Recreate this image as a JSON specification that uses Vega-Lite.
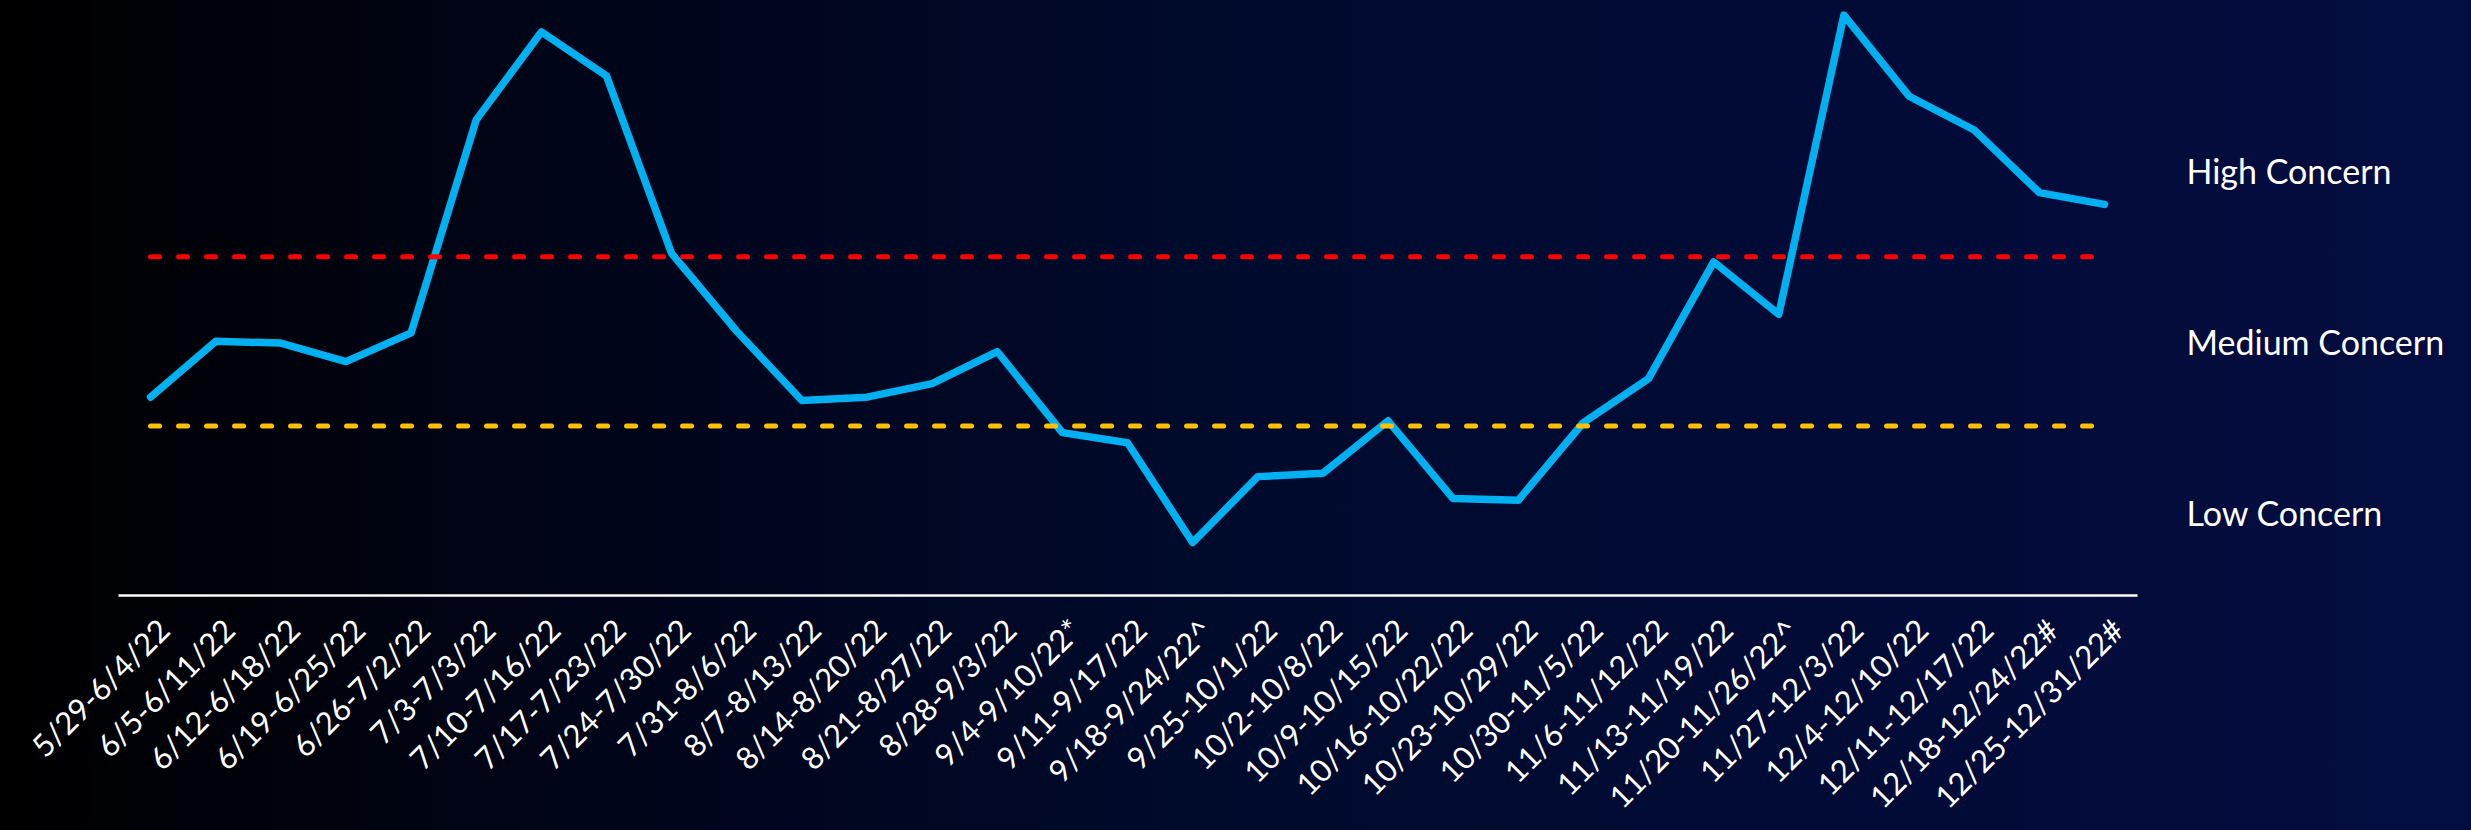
{
  "$schema": "https://vega.github.io/schema/vega-lite/v6.json",
  "width": 2471,
  "height": 830,
  "autosize": {"type": "none"},
  "padding": 0,
  "background": "#000a2c",
  "config": {
    "font": "Lato",
    "view": {
      "stroke": null,
      "fill": {
        "gradient": "linear",
        "x1": 0, "y1": 0, "x2": 1, "y2": 0,
        "stops": [
          {"offset": 0, "color": "#000000"},
          {"offset": 0.25, "color": "#00051a"},
          {"offset": 0.5, "color": "#000a2c"},
          {"offset": 0.75, "color": "#020b36"},
          {"offset": 1, "color": "#040d40"}
        ]
      }
    },
    "axisX": {
      "zindex": 1,
      "grid": false,
      "ticks": false,
      "domainColor": "#ffffff",
      "domainWidth": 2.5,
      "labelAngle": -45,
      "labelAlign": "right",
      "labelBaseline": "top",
      "labelFont": "Lato",
      "labelFontSize": 31,
      "labelColor": "#ffffff",
      "labelPadding": 20,
      "labelOffset": 4,
      "labelOverlap": false,
      "labelLimit": 0
    }
  },
  "layer": [
    {
      "data": {"values": [
        {"week": "5/29-6/4/22", "value": 1.17},
        {"week": "6/5-6/11/22", "value": 1.50},
        {"week": "6/12-6/18/22", "value": 1.49},
        {"week": "6/19-6/25/22", "value": 1.38},
        {"week": "6/26-7/2/22", "value": 1.55},
        {"week": "7/3-7/3/22", "value": 2.81},
        {"week": "7/10-7/16/22", "value": 3.33},
        {"week": "7/17-7/23/22", "value": 3.07},
        {"week": "7/24-7/30/22", "value": 2.02},
        {"week": "7/31-8/6/22", "value": 1.56},
        {"week": "8/7-8/13/22", "value": 1.15},
        {"week": "8/14-8/20/22", "value": 1.17},
        {"week": "8/21-8/27/22", "value": 1.25},
        {"week": "8/28-9/3/22", "value": 1.44},
        {"week": "9/4-9/10/22*", "value": 0.96},
        {"week": "9/11-9/17/22", "value": 0.90},
        {"week": "9/18-9/24/22^", "value": 0.31},
        {"week": "9/25-10/1/22", "value": 0.70},
        {"week": "10/2-10/8/22", "value": 0.72},
        {"week": "10/9-10/15/22", "value": 1.03},
        {"week": "10/16-10/22/22", "value": 0.57},
        {"week": "10/23-10/29/22", "value": 0.56},
        {"week": "10/30-11/5/22", "value": 1.02},
        {"week": "11/6-11/12/22", "value": 1.28},
        {"week": "11/13-11/19/22", "value": 1.97},
        {"week": "11/20-11/26/22^", "value": 1.66},
        {"week": "11/27-12/3/22", "value": 3.43},
        {"week": "12/4-12/10/22", "value": 2.95},
        {"week": "12/11-12/17/22", "value": 2.75},
        {"week": "12/18-12/24/22#", "value": 2.38},
        {"week": "12/25-12/31/22#", "value": 2.31}
      ]},
      "mark": {"type": "line", "color": "#00b0f0", "strokeWidth": 7.5, "strokeCap": "round", "strokeJoin": "round"},
      "encoding": {
        "x": {
          "field": "week", "type": "nominal",
          "scale": {
            "type": "point", "range": [118, 2137], "padding": 0.5,
            "domain": ["5/29-6/4/22", "6/5-6/11/22", "6/12-6/18/22", "6/19-6/25/22", "6/26-7/2/22", "7/3-7/3/22", "7/10-7/16/22", "7/17-7/23/22", "7/24-7/30/22", "7/31-8/6/22", "8/7-8/13/22", "8/14-8/20/22", "8/21-8/27/22", "8/28-9/3/22", "9/4-9/10/22*", "9/11-9/17/22", "9/18-9/24/22^", "9/25-10/1/22", "10/2-10/8/22", "10/9-10/15/22", "10/16-10/22/22", "10/23-10/29/22", "10/30-11/5/22", "11/6-11/12/22", "11/13-11/19/22", "11/20-11/26/22^", "11/27-12/3/22", "12/4-12/10/22", "12/11-12/17/22", "12/18-12/24/22#", "12/25-12/31/22#"]
          },
          "axis": {"title": null, "orient": "bottom", "offset": -235}
        },
        "y": {
          "field": "value", "type": "quantitative",
          "scale": {"domain": [-1.39, 3.519], "nice": false, "zero": false},
          "axis": null
        }
      }
    },
    {
      "data": {"values": [
        {"level": "High", "week": "5/29-6/4/22", "value": 2},
        {"level": "High", "week": "12/25-12/31/22#", "value": 2},
        {"level": "Medium", "week": "5/29-6/4/22", "value": 1},
        {"level": "Medium", "week": "12/25-12/31/22#", "value": 1}
      ]},
      "mark": {"type": "line", "strokeWidth": 5, "strokeCap": "round", "strokeDash": [9, 19]},
      "encoding": {
        "x": {"field": "week", "type": "nominal", "axis": {"title": null, "orient": "bottom", "offset": -235}},
        "y": {"field": "value", "type": "quantitative", "axis": null},
        "color": {
          "field": "level", "type": "nominal",
          "scale": {"domain": ["High", "Medium"], "range": ["#ff0000", "#ffc000"]},
          "legend": null
        }
      }
    },
    {
      "data": {"values": [
        {"label": "High Concern", "value": 2.49, "week": "12/25-12/31/22#"},
        {"label": "Medium Concern", "value": 1.48, "week": "12/25-12/31/22#"},
        {"label": "Low Concern", "value": 0.47, "week": "12/25-12/31/22#"}
      ]},
      "mark": {"type": "text", "align": "left", "baseline": "middle", "dx": 82, "fontSize": 34, "font": "Lato", "color": "#ffffff"},
      "encoding": {
        "x": {"field": "week", "type": "nominal", "axis": {"title": null, "orient": "bottom", "offset": -235}},
        "y": {"field": "value", "type": "quantitative", "axis": null},
        "text": {"field": "label"}
      }
    }
  ]
}
